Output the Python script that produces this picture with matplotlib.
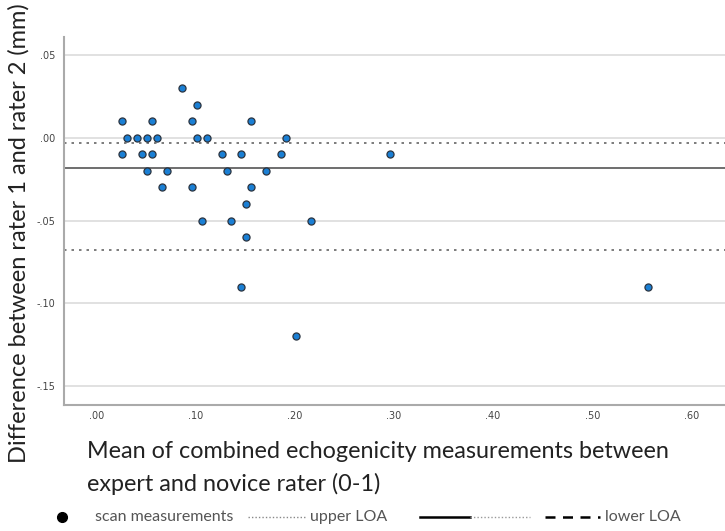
import numpy as np
import matplotlib.pyplot as plt
from matplotlib.lines import Line2D

# mean of the two raters (x) and their difference (y) for each scan
mean_vals = [0.086, 0.101,
             0.026, 0.056, 0.096, 0.156,
             0.031, 0.041, 0.051, 0.061, 0.101, 0.111, 0.191,
             0.026, 0.046, 0.056, 0.126, 0.146, 0.186, 0.296,
             0.051, 0.071, 0.131, 0.171,
             0.066, 0.096, 0.156,
             0.151,
             0.106, 0.136, 0.216,
             0.151,
             0.146, 0.556,
             0.201]
diff_vals = [0.03, 0.02,
             0.01, 0.01, 0.01, 0.01,
             0.00, 0.00, 0.00, 0.00, 0.00, 0.00, 0.00,
             -0.01, -0.01, -0.01, -0.01, -0.01, -0.01, -0.01,
             -0.02, -0.02, -0.02, -0.02,
             -0.03, -0.03, -0.03,
             -0.04,
             -0.05, -0.05, -0.05,
             -0.06,
             -0.09, -0.09,
             -0.12]

mean_diff = -0.018
upper_loa = -0.0035
lower_loa = -0.068

xticks = [0.0, 0.1, 0.2, 0.3, 0.4, 0.5, 0.6]
xtick_labels = ['.00', '.10', '.20', '.30', '.40', '.50', '.60']
yticks = [0.05, 0.0, -0.05, -0.10, -0.15]
ytick_labels = ['.05', '.00', '-.05', '-.10', '-.15']

lab_font = 'Lato'

fig = plt.figure(figsize=(7.25, 5.31), dpi=100)
ax = fig.add_axes([64 / 725, 1 - 405 / 531, 1 - 64 / 725, (405 - 37) / 531])

for y in yticks:
    ax.axhline(y, color='#dcdcdc', lw=1.2, zorder=0)

ax.axhline(mean_diff, color='#555555', lw=1.2, zorder=1)
ax.axhline(upper_loa, color='#666666', lw=1.2, ls=(0, (1.5, 3)), zorder=1)
ax.axhline(lower_loa, color='#666666', lw=1.2, ls=(0, (1.5, 3)), zorder=1)

ax.scatter(mean_vals, diff_vals, s=26, facecolor='#1a7fd4', edgecolor='#2b3440',
           linewidth=0.9, zorder=3)

ax.set_xlim(-0.033, 0.634)
ax.set_ylim(-0.1614, 0.0608)
ax.set_xticks(xticks)
ax.set_xticklabels(xtick_labels)
ax.set_yticks(yticks)
ax.set_yticklabels(ytick_labels)
ax.tick_params(axis='x', length=0, labelsize=7, labelcolor='#444444', pad=4)
ax.tick_params(axis='y', length=0, labelsize=7, labelcolor='#444444', pad=6)
for s in ['top', 'right']:
    ax.spines[s].set_visible(False)
for s in ['left', 'bottom']:
    ax.spines[s].set_color('#aaaaaa')
    ax.spines[s].set_linewidth(1.5)

fig.text(0.026, 1 - 233 / 531, 'Difference between rater 1 and rater 2 (mm)', rotation=90,
         ha='center', va='center', fontsize=17, family=lab_font, color='#222222')
fig.text(87 / 725, 1 - 452 / 531, 'Mean of combined echogenicity measurements between',
         ha='left', va='center', fontsize=16.8, family=lab_font, color='#222222')
fig.text(87 / 725, 1 - 484 / 531, 'expert and novice rater (0-1)',
         ha='left', va='center', fontsize=16.8, family=lab_font, color='#222222')

# legend row along the bottom
ly = 1 - 517 / 531
fig.add_artist(Line2D([62 / 725], [ly], marker='o', ms=7, color='black', transform=fig.transFigure))
fig.text(95 / 725, ly, 'scan measurements', fontsize=11.5, color='#555555', va='center',
         family=lab_font)
fig.add_artist(Line2D([248 / 725, 306 / 725], [ly, ly], color='#888888', lw=1, ls=(0, (1, 1.5)),
                      transform=fig.transFigure))
fig.text(310 / 725, ly, 'upper LOA', fontsize=11.5, color='#555555', va='center', family=lab_font)
fig.add_artist(Line2D([420 / 725, 470 / 725], [ly, ly], color='black', lw=1.8,
                      transform=fig.transFigure))
fig.add_artist(Line2D([470 / 725, 530 / 725], [ly, ly], color='#999999', lw=1, ls=(0, (1, 1.5)),
                      transform=fig.transFigure))
fig.add_artist(Line2D([545 / 725, 600 / 725], [ly, ly], color='black', lw=1.8, ls=(0, (4, 3)),
                      transform=fig.transFigure))
fig.text(605 / 725, ly, 'lower LOA', fontsize=11.5, color='#555555', va='center', family=lab_font)

fig.savefig('out.png', dpi=100)
